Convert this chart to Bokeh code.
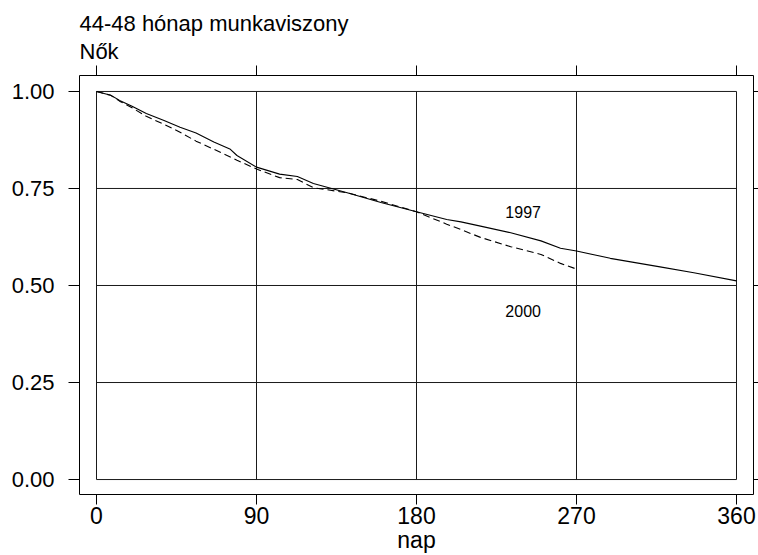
from bokeh.plotting import figure
from bokeh.models import LinearAxis, FixedTicker, Range1d, Title
from bokeh.core.properties import value
from bokeh.embed import file_html
from bokeh.resources import INLINE

# ---- data ----
title_line1 = "44-48 hónap munkaviszony"
title_line2 = "Nők"
x_label = "nap"

x_ticks = [0, 90, 180, 270, 360]
y_ticks = [0.0, 0.25, 0.5, 0.75, 1.0]
y_tick_labels = ["0.00", "0.25", "0.50", "0.75", "1.00"]

days_1997 = [0, 8, 13, 20, 28, 38, 47, 56, 66, 75, 79, 90, 103, 113, 122, 141,
             160, 180, 197, 205, 216, 233, 250, 261, 270, 289, 317, 336, 360]
surv_1997 = [1.000, 0.990, 0.977, 0.962, 0.943, 0.925, 0.908, 0.893, 0.870, 0.852,
             0.835, 0.805, 0.787, 0.781, 0.763, 0.739, 0.714, 0.690, 0.670, 0.664,
             0.653, 0.636, 0.615, 0.596, 0.589, 0.570, 0.548, 0.533, 0.512]

days_2000 = [0, 8, 13, 20, 28, 38, 47, 56, 66, 79, 90, 103, 113, 122, 141, 160,
             180, 197, 205, 216, 233, 250, 261, 269]
surv_2000 = [1.000, 0.990, 0.975, 0.958, 0.936, 0.915, 0.895, 0.872, 0.851, 0.823,
             0.800, 0.778, 0.773, 0.752, 0.739, 0.717, 0.690, 0.658, 0.644, 0.624,
             0.600, 0.580, 0.557, 0.544]

series_labels = ["1997", "2000"]
label_x = [240, 240]
label_y = [0.690, 0.434]

FONT = "Liberation Sans"

p = figure(width=758, height=555, output_backend="svg", toolbar_location=None,
           x_range=Range1d(-9.5625, 369.5625), y_range=Range1d(-0.03856, 1.04113),
           min_border_left=79, min_border_right=5, min_border_top=75, min_border_bottom=60)
p.background_fill_color = "white"
p.border_fill_color = "white"
p.outline_line_color = "black"
p.outline_line_width = 1
p.xgrid.visible = False
p.ygrid.visible = False

# bottom axis
xa = p.xaxis[0]
xa.ticker = FixedTicker(ticks=x_ticks)
xa.axis_line_color = None
xa.major_tick_in = 0
xa.major_tick_out = 10
xa.minor_tick_line_color = None
xa.major_tick_line_color = "black"
xa.major_label_text_font = FONT
xa.major_label_text_font_size = "23px"
xa.major_label_text_color = "black"
xa.major_label_standoff = 2
xa.axis_label = x_label
xa.axis_label_text_font = FONT
xa.axis_label_text_font_size = "23px"
xa.axis_label_text_font_style = "normal"
xa.axis_label_text_color = "black"
xa.axis_label_standoff = 0

# left axis
ya = p.yaxis[0]
ya.ticker = FixedTicker(ticks=y_ticks)
ya.major_label_overrides = {t: s for t, s in zip(y_ticks, y_tick_labels)}
ya.axis_line_color = None
ya.major_tick_in = 0
ya.major_tick_out = 11
ya.minor_tick_line_color = None
ya.major_tick_line_color = "black"
ya.major_label_text_font = FONT
ya.major_label_text_font_size = "22px"
ya.major_label_text_color = "black"
ya.major_label_standoff = 14

# top axis: ticks only
ta = LinearAxis(ticker=FixedTicker(ticks=x_ticks), axis_line_color=None,
                major_tick_in=0, major_tick_out=10, minor_tick_line_color=None,
                major_tick_line_color="black", major_tick_line_width=1,
                major_label_text_font_size="10px",
                major_label_text_color=None, major_label_standoff=0)
p.add_layout(ta, "above")

# right axis: ticks only
ra = LinearAxis(ticker=FixedTicker(ticks=y_ticks), axis_line_color=None,
                major_tick_in=0, major_tick_out=5, minor_tick_line_color=None,
                major_tick_line_color="black", major_tick_line_width=1,
                major_label_text_font_size="10px",
                major_label_text_color=None, major_label_standoff=0)
p.add_layout(ra, "right")

# titles (closest to the frame first)
p.add_layout(Title(text=title_line2, align="left", text_font=FONT, text_font_size="22px",
                   text_font_style="normal", text_color="black", standoff=3, offset=0), "above")
p.add_layout(Title(text=title_line1, align="left", text_font=FONT, text_font_size="22px",
                   text_font_style="normal", text_color="black", standoff=0, offset=0), "above")

# inner grid box (spans only the data rectangle)
p.segment(x0=x_ticks, y0=[y_ticks[0]] * len(x_ticks), x1=x_ticks, y1=[y_ticks[-1]] * len(x_ticks),
          line_color="#1a1a1a", line_width=1)
p.segment(x0=[x_ticks[0]] * len(y_ticks), y0=y_ticks, x1=[x_ticks[-1]] * len(y_ticks), y1=y_ticks,
          line_color="#1a1a1a", line_width=1)

# survival curves
p.line(days_1997, surv_1997, line_color="black", line_width=1.1)
p.line(days_2000, surv_2000, line_color="black", line_width=1.1, line_dash="7 4")

p.text(x=label_x, y=label_y, text=series_labels, text_font=value(FONT),
       text_font_size="16px", text_align="center", text_baseline="middle",
       text_color="black")

open("out.html", "w").write(file_html(p, INLINE))
